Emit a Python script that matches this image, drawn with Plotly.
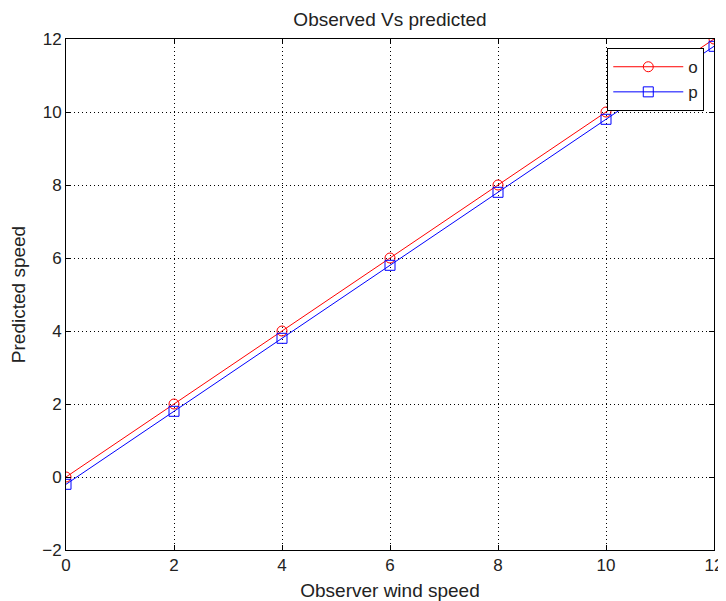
import plotly.graph_objects as go

x_vals = [0, 2, 4, 6, 8, 10, 12]
observed = [0, 2, 4, 6, 8, 10, 12]
predicted = [-0.2, 1.8, 3.8, 5.8, 7.8, 9.8, 11.8]
x_ticks = [0, 2, 4, 6, 8, 10, 12]
y_ticks = [-2, 0, 2, 4, 6, 8, 10, 12]

font_family = "Liberation Sans, Arial, sans-serif"
txt = "#222"

# page body has an 8px default margin, so the figure is sized to fit the window
W, H = 718, 593

fig = go.Figure()
fig.add_trace(go.Scatter(
    x=x_vals, y=observed, name="o", mode="lines+markers",
    line=dict(color="#ff0000", width=1),
    marker=dict(symbol="circle-open", size=10, color="#ff0000", line=dict(width=1)),
))
fig.add_trace(go.Scatter(
    x=x_vals, y=predicted, name="p", mode="lines+markers",
    line=dict(color="#0000ff", width=1),
    marker=dict(symbol="square-open", size=10, color="#0000ff", line=dict(width=1)),
))

axis_common = dict(
    showline=True, linecolor="black", linewidth=1, mirror="allticks",
    ticks="inside", ticklen=5, tickcolor="black",
    showgrid=True, gridcolor="black", griddash="1px,3px", gridwidth=1,
    zeroline=False, automargin=False,
    tickfont=dict(size=17, color=txt, family=font_family),
)

fig.update_layout(
    width=W, height=H,
    margin=dict(l=58, r=12, t=31, b=51),
    paper_bgcolor="white", plot_bgcolor="white",
    font=dict(family=font_family, size=17, color=txt),
    title=dict(text="Observed Vs predicted", x=0.5, xref="paper", xanchor="center",
               y=1 - 11 / H, yanchor="middle",
               font=dict(size=19, color=txt, family=font_family)),
    xaxis=dict(range=[0, 12], tickvals=x_ticks,
               title=dict(text="Observer wind speed", standoff=11,
                          font=dict(size=19, color=txt)),
               **axis_common),
    yaxis=dict(range=[-2, 12], tickvals=y_ticks, ticklabelstandoff=0,
               title=dict(text="Predicted speed", standoff=12,
                          font=dict(size=19, color=txt)),
               **axis_common),
    legend=dict(x=0.985, xanchor="right", y=0.982, yanchor="top",
                bgcolor="white", bordercolor="black", borderwidth=1,
                itemwidth=70, font=dict(size=17, color=txt)),
)

fig.write_html("out.html")
